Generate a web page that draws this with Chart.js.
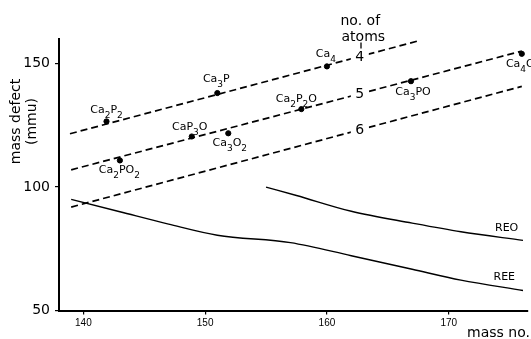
<!DOCTYPE html>
<html>
<head>
<meta charset="utf-8">
<script src="https://cdn.jsdelivr.net/npm/chart.js@4.4.1/dist/chart.umd.min.js"></script>
<style>
  html, body { margin: 0; padding: 0; background: #fff; }
  canvas { display: block; }
</style>
</head>
<body>
<canvas id="chart" width="531" height="339"></canvas>
<script>
// measured clusters: mass number and mass defect (mmu)
const compounds = ["Ca2P2", "Ca2PO2", "CaP3O", "Ca3P", "Ca3O2", "Ca2P2O", "Ca4", "Ca3PO", "Ca4O"];
const compoundMass = [141.9, 143.0, 148.9, 151.0, 151.9, 157.9, 160.0, 166.9, 176.0];
const compoundDefect = [126.6, 110.8, 120.5, 138.1, 121.8, 131.6, 148.9, 142.9, 154.0];

// dashed lines for 4, 5 and 6 atoms (start / end)
const atomCounts = [4, 5, 6];
const fitMass = [[138.9, 167.4], [139.0, 176.0], [139.0, 176.0]];
const fitDefect = [[121.6, 159.1], [107.0, 155.1], [91.9, 140.8]];

// rare earth oxide / element curves
const reoMass = [155, 157.5, 162, 167, 171, 176.1];
const reoDefect = [100, 96.6, 90.2, 85.4, 81.9, 78.4];
const reeMass = [139, 143, 147, 151, 157, 162, 167, 171, 176.1];
const reeDefect = [95, 90, 85, 80.5, 77.5, 72.2, 66.7, 62.3, 58.1];

const massTicks = [140, 150, 160, 170];
const defectTicks = [50, 100, 150];

// where each formula sits around its dot: [dx, baseline dy] in px
const labelPlace = {
  Ca2P2: [0, -8.5], Ca2PO2: [-0.5, 13], CaP3O: [-2, -6], Ca3P: [-1, -11],
  Ca3O2: [1.5, 12.5], Ca2P2O: [-5, -7], Ca4: [-1, -9.5], Ca3PO: [2, 13.5], Ca4O: [-1.5, 13.5]
};
const atomLabelMass = 162.7;

const MAIN_FONT = "11px 'DejaVu Sans'";
const SUB_FONT = "9px 'DejaVu Sans'";
const TITLE_FONT = "14px 'DejaVu Sans'";

function drawFormula(ctx, text, cx, baseline) {
  const parts = text.match(/\d+|\D+/g);
  let width = 0;
  parts.forEach(p => {
    ctx.font = /\d/.test(p) ? SUB_FONT : MAIN_FONT;
    width += ctx.measureText(p).width;
  });
  let x = cx - width / 2;
  parts.forEach(p => {
    const sub = /\d/.test(p);
    ctx.font = sub ? SUB_FONT : MAIN_FONT;
    ctx.fillText(p, x, baseline + (sub ? 5 : 0));
    x += ctx.measureText(p).width;
  });
}

const annotations = {
  id: "annotations",
  afterDatasetsDraw(chart) {
    const ctx = chart.ctx;
    const xs = chart.scales.x, ys = chart.scales.y;
    ctx.save();
    ctx.fillStyle = "#000";
    ctx.textAlign = "left";
    ctx.textBaseline = "alphabetic";

    compounds.forEach((name, i) => {
      const [dx, dy] = labelPlace[name];
      const px = xs.getPixelForValue(compoundMass[i]);
      const py = ys.getPixelForValue(compoundDefect[i]);
      drawFormula(ctx, name, px + dx, py + dy);
    });

    // atom count sits on its line, with a gap cut out
    ctx.font = TITLE_FONT;
    ctx.textAlign = "center";
    ctx.textBaseline = "middle";
    atomCounts.forEach((n, i) => {
      const [m0, m1] = fitMass[i];
      const [d0, d1] = fitDefect[i];
      const d = d0 + (d1 - d0) * (atomLabelMass - m0) / (m1 - m0);
      const px = xs.getPixelForValue(atomLabelMass);
      const py = ys.getPixelForValue(d);
      ctx.fillStyle = "#fff";
      ctx.fillRect(px - 9, py - 7, 18, 14);
      ctx.fillStyle = "#000";
      ctx.fillText(String(n), px, py + 1);
    });

    ctx.textAlign = "left";
    ctx.textBaseline = "alphabetic";
    ctx.fillText("no. of", 340.5, 25);
    ctx.fillText("atoms", 341.5, 40.5);
    ctx.lineWidth = 1.3;
    ctx.strokeStyle = "#000";
    ctx.beginPath();
    ctx.moveTo(361, 42.5);
    ctx.lineTo(361, 48.5);
    ctx.stroke();

    ctx.font = MAIN_FONT;
    ctx.fillText("REO", 495, 230.5);
    ctx.fillText("REE", 493.5, 280);
    ctx.restore();
  },
  afterDraw(chart) {
    const ctx = chart.ctx;
    ctx.save();
    ctx.fillStyle = "#000";
    ctx.font = TITLE_FONT;
    ctx.textAlign = "right";
    ctx.textBaseline = "alphabetic";
    ctx.fillText("mass no.", 530, 336.5);

    ctx.translate(0, 121.5);
    ctx.rotate(-Math.PI / 2);
    ctx.textAlign = "center";
    ctx.textBaseline = "middle";
    ctx.fillText("mass defect", 0, 16.5);
    ctx.fillText("(mmu)", 0, 32);
    ctx.restore();
  }
};

const pairs = (xs, ys) => xs.map((x, i) => ({ x, y: ys[i] }));

const fitSets = atomCounts.map((n, i) => ({
  type: "line",
  label: n + " atoms",
  data: pairs(fitMass[i], fitDefect[i]),
  borderColor: "#000",
  borderWidth: 1.7,
  borderDash: [7, 4],
  pointRadius: 0,
  fill: false
}));

new Chart(document.getElementById("chart"), {
  type: "scatter",
  data: {
    datasets: [
      {
        label: "clusters",
        data: pairs(compoundMass, compoundDefect),
        backgroundColor: "#000",
        borderColor: "#000",
        pointRadius: 2.6,
        pointHoverRadius: 2.6
      },
      ...fitSets,
      {
        type: "line",
        label: "REO",
        data: pairs(reoMass, reoDefect),
        borderColor: "#000",
        borderWidth: 1.4,
        pointRadius: 0,
        cubicInterpolationMode: "monotone",
        fill: false
      },
      {
        type: "line",
        label: "REE",
        data: pairs(reeMass, reeDefect),
        borderColor: "#000",
        borderWidth: 1.4,
        pointRadius: 0,
        cubicInterpolationMode: "monotone",
        fill: false
      }
    ]
  },
  options: {
    responsive: false,
    animation: false,
    layout: { padding: { top: 39, right: 0, left: 0, bottom: 0 } },
    plugins: {
      legend: { display: false },
      tooltip: { enabled: false }
    },
    scales: {
      x: {
        type: "linear",
        min: 138,
        max: 176.46,
        afterBuildTicks: s => { s.ticks = massTicks.map(v => ({ value: v })); },
        afterFit: s => { s.height = 28.5; },
        ticks: {
          color: "#000",
          padding: 3,
          font: { family: "'Liberation Sans'", size: 10 }
        },
        grid: { drawOnChartArea: false, tickLength: 4, color: "#000", lineWidth: 1.2 },
        border: { color: "#000", width: 2 }
      },
      y: {
        type: "linear",
        min: 50,
        max: 160,
        afterBuildTicks: s => { s.ticks = defectTicks.map(v => ({ value: v })); },
        afterFit: s => { s.width = 59; },
        ticks: {
          color: "#000",
          padding: 5,
          font: { family: "'DejaVu Sans'", size: 14 }
        },
        grid: { drawOnChartArea: false, tickLength: 4, color: "#000", lineWidth: 1.2 },
        border: { color: "#000", width: 2 }
      }
    }
  },
  plugins: [annotations]
});
</script>
</body>
</html>
